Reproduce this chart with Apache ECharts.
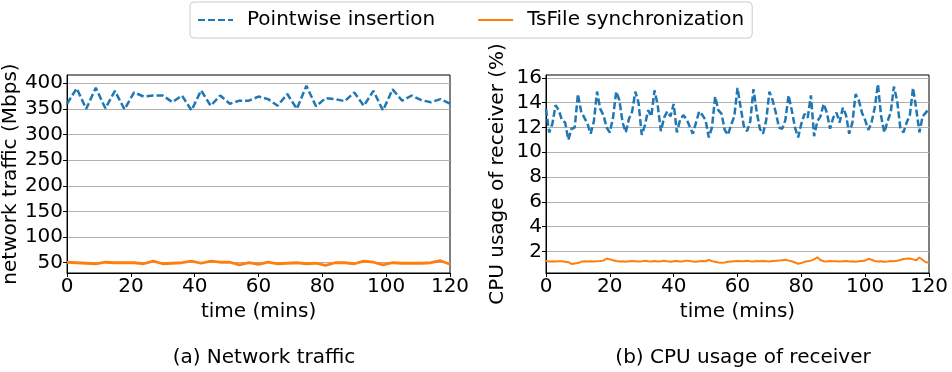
<!DOCTYPE html>
<html>
<head>
<meta charset="utf-8">
<script src="https://cdn.jsdelivr.net/npm/echarts@6/dist/echarts.min.js"></script>
<style>
  html, body { margin: 0; padding: 0; background: #fff; }
  #main { width: 952px; height: 372px; }
</style>
</head>
<body>
<div id="main"></div>
<script>
// (a) network traffic, sampled every 3 minutes
const minutesA = [0, 3, 6, 9, 12, 15, 18, 21, 24, 27, 30, 33, 36, 39, 42, 45, 48, 51, 54, 57, 60,
  63, 66, 69, 72, 75, 78, 81, 84, 87, 90, 93, 96, 99, 102, 105, 108, 111, 114, 117, 120];
const trafficPointwise = [360, 390, 350, 391, 351, 385, 349, 382, 374, 376, 376, 363, 376, 347, 386, 356, 376, 360, 366, 366, 374,
  369, 356, 379, 350, 395, 355, 371, 369, 365, 382, 356, 385, 347, 388, 366, 376, 367, 363, 369, 360];
const trafficTsFile = [51, 50, 49, 48, 51, 50, 50, 50, 48, 53, 48, 49, 50, 53, 49, 53, 51, 51, 46, 50, 47,
  51, 48, 49, 50, 48, 49, 45, 50, 50, 48, 53, 51, 46, 50, 49, 49, 49, 50, 54, 47];
const trafficTicks = [50, 100, 150, 200, 250, 300, 350, 400];

// (b) CPU usage of receiver, sampled every minute
const cpuPointwise = [
  13.5, 11.6, 12.3, 13.8, 13.4, 12.6, 12.4, 11.0, 11.9, 12.0,
  14.7, 13.3, 12.8, 12.3, 11.5, 12.5, 14.9, 13.5, 13.0, 12.0,
  11.6, 12.8, 14.9, 14.2, 12.4, 11.6, 12.7, 13.3, 14.9, 14.0,
  11.4, 12.2, 13.4, 12.9, 15.0, 13.8, 11.7, 12.8, 13.3, 12.9,
  13.9, 11.6, 12.6, 13.0, 12.7, 12.1, 11.5, 12.4, 13.3, 13.0,
  12.6, 11.2, 12.0, 14.5, 13.4, 13.1, 11.8, 11.4, 12.2, 12.9,
  15.2, 13.6, 12.1, 11.7, 12.5, 15.1, 13.3, 11.9, 11.5, 12.6,
  14.9, 14.2, 13.2, 12.0, 11.9, 12.6, 14.6, 13.4, 12.0, 11.2,
  12.3, 13.1, 12.8, 14.6, 11.3, 12.5, 12.9, 13.9, 13.2, 11.9,
  12.8, 13.2, 12.4, 13.6, 13.0, 11.5, 12.4, 14.7, 14.2, 13.2,
  12.6, 11.8, 12.4, 13.6, 15.5, 12.9, 11.6, 12.5, 13.2, 15.3,
  14.2, 12.0, 11.6, 12.4, 13.0, 15.2, 13.5, 11.6, 12.9, 13.2,
  13.5];
const cpuTsFile = [
  1.22, 1.18, 1.20, 1.17, 1.20, 1.19, 1.15, 1.12, 0.98, 1.02,
  1.05, 1.15, 1.20, 1.18, 1.20, 1.17, 1.19, 1.21, 1.25, 1.42,
  1.35, 1.28, 1.22, 1.18, 1.20, 1.16, 1.19, 1.22, 1.20, 1.17,
  1.19, 1.23, 1.20, 1.18, 1.21, 1.17, 1.20, 1.24, 1.19, 1.16,
  1.20, 1.22, 1.18, 1.20, 1.25, 1.21, 1.18, 1.15, 1.19, 1.22,
  1.20, 1.30, 1.22, 1.15, 1.10, 1.08, 1.10, 1.15, 1.18, 1.20,
  1.22, 1.19, 1.20, 1.23, 1.20, 1.18, 1.21, 1.19, 1.22, 1.20,
  1.18, 1.21, 1.23, 1.25, 1.28, 1.32, 1.25, 1.20, 1.10, 1.00,
  1.05, 1.15, 1.20, 1.25, 1.35, 1.52, 1.30, 1.20, 1.18, 1.21,
  1.19, 1.20, 1.17, 1.20, 1.22, 1.18, 1.20, 1.16, 1.19, 1.22,
  1.25, 1.40, 1.32, 1.22, 1.18, 1.20, 1.16, 1.18, 1.22, 1.20,
  1.24, 1.30, 1.38, 1.40, 1.42, 1.35, 1.28, 1.50, 1.30, 1.12,
  1.10];
const minutesB = cpuPointwise.map((_, i) => i);
const cpuTicks = [2, 4, 6, 8, 10, 12, 14, 16];

const blue = '#1f77b4';
const orange = '#ff7f0e';
const font = 'DejaVu Sans';
const fs = 20;

const pair = (xs, ys) => xs.map((x, i) => [x, ys[i]]);

const xAxisOpt = (gridIndex) => ({
  type: 'value',
  gridIndex,
  min: 0,
  max: 120,
  interval: 20,
  name: 'time (mins)',
  nameLocation: 'middle',
  nameGap: 16,
  nameTextStyle: { fontFamily: font, fontSize: fs, color: '#000' },
  axisLine: { show: true, lineStyle: { color: '#000', width: 1 } },
  axisTick: { show: true, length: 4, lineStyle: { color: '#000' } },
  axisLabel: { fontFamily: font, fontSize: fs, color: '#000', margin: 4 },
  splitLine: { show: false }
});

const yAxisOpt = (gridIndex, name, min, max, ticks, gap) => ({
  type: 'value',
  gridIndex,
  min,
  max,
  name,
  nameLocation: 'middle',
  nameGap: gap,
  nameTextStyle: { fontFamily: font, fontSize: fs, color: '#000' },
  axisLine: { show: true, lineStyle: { color: '#000', width: 1 } },
  axisTick: { show: true, length: 4, customValues: ticks, lineStyle: { color: '#000' } },
  axisLabel: { fontFamily: font, fontSize: fs, color: '#000', margin: 4, customValues: ticks },
  splitLine: { show: true, lineStyle: { color: '#b0b0b0', width: 1 } }
});

const chart = echarts.init(document.getElementById('main'));
chart.setOption({
  animation: false,
  backgroundColor: '#fff',
  title: [
    { text: '(a) Network traffic', left: 259, top: 343, textAlign: 'center',
      textStyle: { fontFamily: font, fontSize: fs, fontWeight: 'normal', color: '#000' } },
    { text: '(b) CPU usage of receiver', left: 738, top: 343, textAlign: 'center',
      textStyle: { fontFamily: font, fontSize: fs, fontWeight: 'normal', color: '#000' } }
  ],
  legend: {
    left: 190,
    top: 2,
    padding: [8, 8, 8, 7],
    itemWidth: 35,
    itemHeight: 12,
    itemGap: 42,
    borderColor: '#cccccc',
    borderWidth: 1,
    borderRadius: 4,
    itemStyle: { opacity: 0 },
    textStyle: { fontFamily: font, fontSize: fs, color: '#000', padding: [0, 0, 0, 9] },
    data: ['Pointwise insertion', 'TsFile synchronization']
  },
  grid: [
    { left: 67, top: 75, width: 383, height: 198, show: true, borderColor: '#000', borderWidth: 1 },
    { left: 546, top: 75, width: 383, height: 198, show: true, borderColor: '#000', borderWidth: 1 }
  ],
  xAxis: [xAxisOpt(0), xAxisOpt(1)],
  yAxis: [
    yAxisOpt(0, 'network traffic (Mbps)', 30, 416, trafficTicks, 36),
    yAxisOpt(1, 'CPU usage of receiver (%)', 0.25, 16.24, cpuTicks, 38)
  ],
  series: [
    {
      name: 'Pointwise insertion', type: 'line', xAxisIndex: 0, yAxisIndex: 0,
      data: pair(minutesA, trafficPointwise), showSymbol: false, symbol: 'none',
      lineStyle: { color: blue, width: 2.5, type: [7, 3] }, itemStyle: { color: blue }
    },
    {
      name: 'TsFile synchronization', type: 'line', xAxisIndex: 0, yAxisIndex: 0,
      data: pair(minutesA, trafficTsFile), showSymbol: false, symbol: 'none',
      lineStyle: { color: orange, width: 2.8 }, itemStyle: { color: orange }
    },
    {
      name: 'Pointwise insertion', type: 'line', xAxisIndex: 1, yAxisIndex: 1,
      data: pair(minutesB, cpuPointwise), showSymbol: false, symbol: 'none',
      lineStyle: { color: blue, width: 2.5, type: [7, 3] }, itemStyle: { color: blue }
    },
    {
      name: 'TsFile synchronization', type: 'line', xAxisIndex: 1, yAxisIndex: 1,
      data: pair(minutesB, cpuTsFile), showSymbol: false, symbol: 'none',
      lineStyle: { color: orange, width: 2 }, itemStyle: { color: orange }
    }
  ]
});
</script>
</body>
</html>
